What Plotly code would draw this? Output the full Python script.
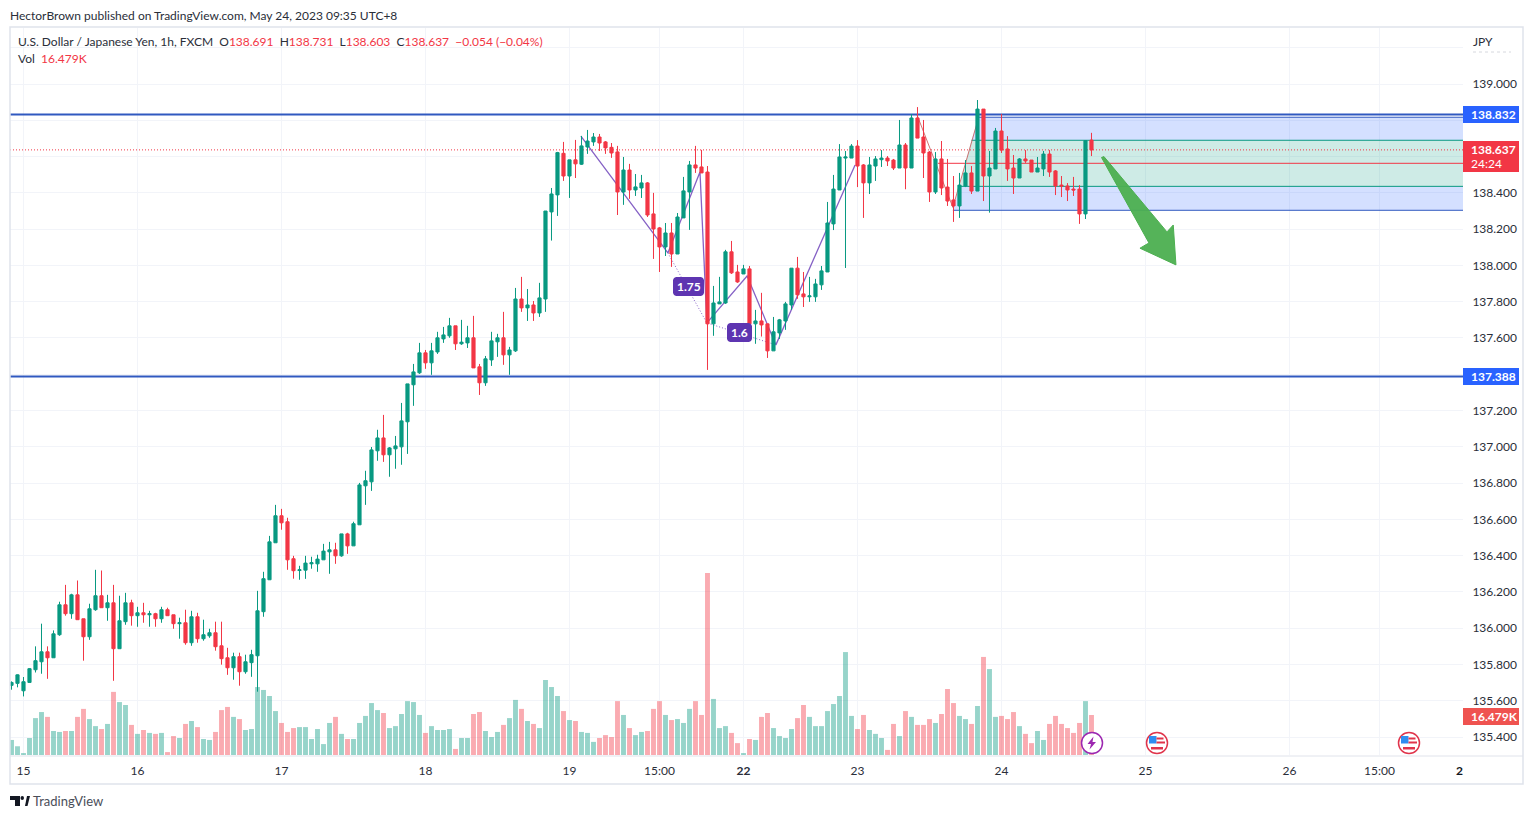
# USD/JPY 1h candles with volume, TradingView style.
import plotly.graph_objects as pgo

OPEN = [
    135.685, 135.696, 135.655, 135.701, 135.771, 135.815, 135.870, 135.837, 135.964, 136.129,
    136.080, 136.184, 136.052, 135.953, 136.102, 136.179, 136.113, 136.140, 135.887, 136.036,
    136.140, 136.069, 136.085, 136.074, 136.080, 136.052, 136.102, 136.074, 136.025, 136.030,
    135.920, 136.063, 135.942, 135.958, 135.975, 135.903, 135.837, 135.782, 135.843, 135.760,
    135.810, 135.848, 136.091, 136.267, 136.471, 136.620, 136.587, 136.383, 136.318, 136.320,
    136.355, 136.355, 136.377, 136.421, 136.432, 136.399, 136.520, 136.454, 136.570, 136.785,
    136.807, 136.978, 137.049, 136.956, 136.989, 137.000, 137.138, 137.342, 137.408, 137.518,
    137.463, 137.523, 137.595, 137.612, 137.667, 137.568, 137.573, 137.601, 137.441, 137.353,
    137.479, 137.579, 137.601, 137.507, 137.529, 137.815, 137.766, 137.782, 137.738, 137.815,
    138.295, 138.389, 138.618, 138.493, 138.582, 138.558, 138.653, 138.681, 138.708, 138.681,
    138.651, 138.626, 138.405, 138.526, 138.416, 138.427, 138.455, 138.284, 138.207, 138.102,
    138.179, 138.063, 138.262, 138.405, 138.554, 138.543, 138.515, 137.678, 137.788, 137.793,
    138.075, 137.964, 137.953, 137.981, 137.678, 137.694, 137.678, 137.529, 137.628, 137.694,
    137.782, 137.985, 137.843, 137.827, 137.827, 137.893, 137.964, 138.229, 138.416, 138.592,
    138.592, 138.658, 138.554, 138.455, 138.548, 138.583, 138.592, 138.581, 138.537, 138.664,
    138.537, 138.813, 138.708, 138.625, 138.405, 138.587, 138.432, 138.361, 138.328, 138.438,
    138.510, 138.410, 138.862, 138.493, 138.532, 138.741, 138.642, 138.537, 138.482, 138.587,
    138.581, 138.515, 138.532, 138.614, 138.521, 138.443, 138.438, 138.421, 138.421, 138.284,
    138.691,
]
HIGH = [
    135.707, 135.745, 135.731, 135.780, 135.900, 136.025, 135.900, 135.988, 136.146, 136.239,
    136.190, 136.263, 136.052, 136.135, 136.322, 136.318, 136.184, 136.239, 136.179, 136.195,
    136.157, 136.118, 136.140, 136.096, 136.085, 136.118, 136.113, 136.074, 136.058, 136.102,
    136.096, 136.085, 136.047, 135.997, 136.036, 136.036, 135.892, 135.865, 135.865, 135.854,
    135.881, 136.206, 136.311, 136.509, 136.680, 136.658, 136.609, 136.399, 136.344, 136.399,
    136.394, 136.405, 136.465, 136.476, 136.471, 136.520, 136.526, 136.587, 136.801, 136.868,
    136.999, 137.094, 137.176, 136.999, 137.060, 137.242, 137.347, 137.457, 137.573, 137.534,
    137.573, 137.634, 137.661, 137.711, 137.667, 137.700, 137.667, 137.722, 137.457, 137.501,
    137.634, 137.623, 137.744, 137.551, 137.876, 137.937, 137.870, 137.804, 137.904, 138.300,
    138.427, 138.626, 138.681, 138.582, 138.692, 138.714, 138.747, 138.730, 138.725, 138.686,
    138.675, 138.659, 138.598, 138.560, 138.504, 138.499, 138.460, 138.400, 138.212, 138.234,
    138.234, 138.289, 138.488, 138.576, 138.659, 138.637, 138.548, 137.887, 137.937, 138.086,
    138.135, 138.003, 138.003, 137.997, 137.755, 137.849, 137.678, 137.716, 137.705, 137.799,
    137.985, 138.047, 137.964, 137.937, 137.926, 137.997, 138.350, 138.499, 138.669, 138.631,
    138.669, 138.691, 138.559, 138.598, 138.603, 138.636, 138.603, 138.587, 138.802, 138.675,
    138.835, 138.873, 138.802, 138.631, 138.625, 138.686, 138.587, 138.493, 138.510, 138.581,
    138.548, 138.912, 138.862, 138.631, 138.758, 138.835, 138.713, 138.609, 138.592, 138.636,
    138.581, 138.598, 138.631, 138.636, 138.526, 138.493, 138.454, 138.488, 138.443, 138.691,
    138.731,
]
LOW = [
    135.661, 135.674, 135.624, 135.701, 135.756, 135.749, 135.721, 135.837, 135.958, 136.069,
    136.052, 136.047, 135.821, 135.936, 136.096, 136.113, 136.041, 135.710, 135.887, 136.019,
    136.014, 136.008, 136.030, 136.008, 136.008, 136.030, 136.069, 135.997, 135.942, 135.909,
    135.903, 135.920, 135.931, 135.947, 135.876, 135.799, 135.743, 135.716, 135.683, 135.749,
    135.732, 135.650, 136.063, 136.267, 136.471, 136.543, 136.322, 136.273, 136.267, 136.272,
    136.328, 136.311, 136.377, 136.300, 136.355, 136.394, 136.410, 136.454, 136.570, 136.680,
    136.757, 136.923, 136.917, 136.835, 136.879, 136.901, 136.961, 137.226, 137.402, 137.430,
    137.397, 137.512, 137.573, 137.601, 137.534, 137.562, 137.545, 137.435, 137.286, 137.336,
    137.446, 137.496, 137.452, 137.397, 137.523, 137.744, 137.694, 137.694, 137.716, 137.744,
    138.137, 138.273, 138.466, 138.372, 138.482, 138.554, 138.615, 138.659, 138.631, 138.615,
    138.593, 138.278, 138.334, 138.367, 138.383, 138.372, 138.267, 138.036, 137.964, 138.052,
    137.992, 138.063, 138.262, 138.196, 138.510, 138.510, 137.424, 137.612, 137.788, 137.788,
    137.953, 137.904, 137.953, 137.672, 137.568, 137.608, 137.490, 137.529, 137.595, 137.645,
    137.755, 137.816, 137.771, 137.799, 137.799, 137.865, 137.964, 138.195, 138.416, 137.986,
    138.592, 138.432, 138.262, 138.394, 138.466, 138.543, 138.548, 138.526, 138.537, 138.420,
    138.537, 138.702, 138.482, 138.350, 138.394, 138.388, 138.328, 138.240, 138.262, 138.432,
    138.394, 138.410, 138.355, 138.291, 138.532, 138.620, 138.466, 138.394, 138.482, 138.565,
    138.515, 138.515, 138.493, 138.488, 138.388, 138.377, 138.355, 138.383, 138.229, 138.256,
    138.603,
]
CLOSE = [
    135.701, 135.743, 135.705, 135.777, 135.821, 135.870, 135.837, 135.969, 136.129, 136.080,
    136.184, 136.047, 135.953, 136.107, 136.179, 136.113, 136.140, 135.887, 136.041, 136.140,
    136.069, 136.085, 136.074, 136.080, 136.052, 136.102, 136.069, 136.025, 136.030, 135.920,
    136.063, 135.942, 135.964, 135.975, 135.898, 135.832, 135.782, 135.843, 135.760, 135.815,
    135.854, 136.096, 136.273, 136.476, 136.620, 136.581, 136.377, 136.317, 136.322, 136.359,
    136.361, 136.381, 136.425, 136.432, 136.399, 136.520, 136.454, 136.576, 136.790, 136.813,
    136.983, 137.049, 136.956, 136.994, 137.005, 137.143, 137.347, 137.413, 137.518, 137.463,
    137.529, 137.601, 137.617, 137.667, 137.568, 137.577, 137.601, 137.435, 137.353, 137.485,
    137.584, 137.601, 137.507, 137.534, 137.815, 137.766, 137.782, 137.738, 137.821, 138.300,
    138.394, 138.622, 138.493, 138.582, 138.560, 138.659, 138.686, 138.708, 138.675, 138.648,
    138.620, 138.405, 138.526, 138.416, 138.433, 138.455, 138.278, 138.201, 138.102, 138.179,
    138.063, 138.267, 138.411, 138.554, 138.537, 138.510, 137.678, 137.793, 137.799, 138.075,
    137.959, 137.909, 137.981, 137.678, 137.694, 137.672, 137.529, 137.634, 137.700, 137.788,
    137.985, 137.838, 137.827, 137.832, 137.898, 137.970, 138.234, 138.421, 138.598, 138.598,
    138.658, 138.548, 138.455, 138.554, 138.587, 138.592, 138.576, 138.537, 138.664, 138.537,
    138.813, 138.702, 138.620, 138.405, 138.587, 138.427, 138.355, 138.328, 138.443, 138.510,
    138.410, 138.862, 138.493, 138.537, 138.741, 138.636, 138.532, 138.482, 138.587, 138.576,
    138.515, 138.537, 138.614, 138.515, 138.438, 138.438, 138.416, 138.416, 138.284, 138.688,
    138.637,
]
VOLUME_K = [
    6.2, 3.6, 0.8, 7.0, 15.2, 17.7, 15.7, 9.9, 9.5, 9.9,
    9.9, 15.7, 19.0, 14.8, 11.9, 10.7, 12.8, 26.0, 21.8, 20.6,
    12.4, 8.7, 10.3, 9.1, 8.7, 9.1, 1.2, 7.8, 7.0, 12.8,
    14.0, 11.5, 6.6, 6.2, 9.5, 18.5, 19.8, 15.7, 14.8, 10.3,
    10.7, 28.0, 26.8, 24.3, 18.1, 13.2, 9.5, 11.1, 11.5, 11.5,
    6.6, 10.7, 4.5, 13.2, 15.7, 8.7, 6.6, 6.6, 13.2, 16.1,
    21.4, 18.5, 17.3, 11.1, 11.9, 16.9, 22.2, 21.8, 16.5, 9.1,
    11.9, 10.3, 10.3, 10.7, 2.5, 7.0, 7.0, 16.9, 17.7, 9.9,
    7.4, 9.5, 12.4, 15.2, 22.7, 19.0, 14.0, 12.8, 11.1, 30.9,
    28.0, 24.3, 18.1, 14.4, 14.0, 9.5, 9.1, 5.4, 7.0, 8.2,
    7.4, 22.2, 16.5, 11.1, 8.2, 9.5, 9.9, 19.0, 22.2, 16.5,
    14.4, 14.8, 13.2, 19.0, 22.2, 16.5, 75.0, 23.1, 11.1, 11.9,
    9.1, 4.9, 0.8, 6.6, 6.2, 15.7, 17.3, 11.1, 7.8, 7.0,
    10.7, 15.2, 20.6, 15.7, 11.9, 11.9, 18.1, 21.0, 24.3, 42.4,
    16.1, 10.7, 16.5, 10.3, 8.7, 7.0, 2.1, 12.8, 7.8, 18.1,
    15.7, 12.4, 12.4, 14.8, 13.2, 16.9, 27.2, 21.4, 16.1, 14.8,
    12.8, 20.2, 40.4, 35.4, 15.7, 16.1, 14.8, 17.7, 11.9, 8.7,
    4.9, 9.9, 6.2, 12.8, 16.1, 12.8, 11.1, 9.1, 13.2, 22.2,
    16.479,
]

X_TICK_BARS = [2, 21, 45, 69, 93, 108, 122, 141, 165, 189, 213, 228]
X_TICK_LABELS = ['15', '16', '17', '18', '19', '15:00', '<b>22</b>', '23', '24', '25', '26', '15:00']
PRICE_TICKS = [135.4, 135.6, 135.8, 136.0, 136.2, 136.4, 136.6, 136.8, 137.0, 137.2,
               137.4, 137.6, 137.8, 138.0, 138.2, 138.4, 138.6, 138.8, 139.0, 139.2]
# these sit under the JPY caption or the price tags on the scale
HIDDEN_TICKS = [137.4, 138.6, 138.8, 139.2]

SUPPORT = 137.388
RESISTANCE = 138.832
LAST_PRICE = 138.637

# harmonic pattern drawn on the chart
ZIG_BARS = [94.9, 109.4, 114.75, 115.9, 122.6, 127.4, 140.6]
ZIG_PRICES = [138.713, 138.069, 138.515, 137.683, 137.942, 137.562, 138.554]
DOT_BARS = [109.4, 115.9, 127.4]
DOT_PRICES = [138.069, 137.683, 137.562]

# pitchfork on the right
FORK_BARS = [150.9, 156.9, 161.2]
FORK_PRICES = [138.832, 138.320, 138.817]
FORK_LEVELS = [138.817, 138.690, 138.563, 138.436, 138.304]
FORK_STARTS = [161.2, 160.0, 154.4, 158.0, 156.9]
FORK_COLORS = ['#3059c0', '#089981', '#f23645', '#089981', '#3059c0']

ARROW_BARS = [181.67, 182.08, 192.58, 193.63, 194.08, 188.08, 189.58, 181.67]
ARROW_PRICES = [138.595, 138.600, 138.185, 138.223, 138.003, 138.095, 138.124, 138.595]

FONT = 'Lato'
RED = '#f23645'
GREEN = '#089981'
GRID = '#f2f4f9'
BORDER = '#e0e3eb'

LEFT, RIGHT, TOP, BOTTOM = 10, 1463, 28, 755
PRICE_RANGE = [135.301, 139.309]
BAR_RANGE = [-0.25, 241.92]
VOLUME_RANGE = [0, 299.5]


def px(x):
    return (x - LEFT) / (RIGHT - LEFT)


def py(y):
    return (BOTTOM - y) / (BOTTOM - TOP)


def page_text(fig, text, x, y, size=12, color='#131722', anchor='left'):
    # annotations keep a small inner pad, take it off so x is where the glyphs start
    if anchor == 'left':
        x -= 2
    fig.add_annotation(text=text, x=px(x), y=py(y), xref='paper', yref='paper', showarrow=False,
                       xanchor=anchor, yanchor='middle', align='left',
                       font=dict(family=FONT, size=size, color=color))


def page_rect(fig, x0, y0, x1, y1, color, line=None, kind='rect'):
    fig.add_shape(type=kind, xref='paper', yref='paper', x0=px(x0), x1=px(x1), y0=py(y0), y1=py(y1),
                  fillcolor=color, line=dict(color=line or color, width=1.5 if line else 0), layer='above')


def page_path(fig, points, color):
    path = 'M ' + ' L '.join(f'{px(x)} {py(y)}' for x, y in points) + ' Z'
    fig.add_shape(type='path', xref='paper', yref='paper', layer='above', fillcolor=color, line_width=0, path=path)


def round_tag(fig, x0, y0, x1, y1, color, r=3):
    page_path(fig, [(x0 + r, y0), (x1 - r, y0), (x1 - 1, y0 + 1), (x1, y0 + r), (x1, y1 - r), (x1 - 1, y1 - 1),
                    (x1 - r, y1), (x0 + r, y1), (x0 + 1, y1 - 1), (x0, y1 - r), (x0, y0 + r), (x0 + 1, y0 + 1)], color)


def add_flag(fig, cx, cy):
    page_rect(fig, cx - 10.5, cy - 10.5, cx + 10.5, cy + 10.5, 'white', line='#e0344b', kind='circle')
    page_rect(fig, cx - 8, cy - 7, cx - 0.5, cy + 0.5, '#2f8df0')
    page_rect(fig, cx - 0.5, cy - 5.5, cx + 6.5, cy - 3.5, '#e0344b')
    page_rect(fig, cx - 0.5, cy - 1.5, cx + 8, cy + 0.5, '#e0344b')
    page_rect(fig, cx - 6, cy + 4, cx + 6, cy + 6.5, '#e0344b')


def main():
    fig = pgo.Figure()
    bars = list(range(len(CLOSE)))
    right_bar = BAR_RANGE[1]

    # drawings sit on the base axis so the candles stay on top of them
    top, mid_hi, mid_lo, bottom = FORK_LEVELS[0], FORK_LEVELS[1], FORK_LEVELS[3], FORK_LEVELS[4]
    fig.add_trace(pgo.Scatter(
        x=[FORK_STARTS[4], FORK_STARTS[3], right_bar, right_bar, FORK_STARTS[4]],
        y=[bottom, mid_lo, mid_lo, bottom, bottom],
        mode='none', fill='toself', fillcolor='rgba(41,98,255,0.2)'))
    fig.add_trace(pgo.Scatter(
        x=[FORK_STARTS[1], FORK_STARTS[0], right_bar, right_bar, FORK_STARTS[1]],
        y=[mid_hi, top, top, mid_hi, mid_hi],
        mode='none', fill='toself', fillcolor='rgba(41,98,255,0.2)'))
    fig.add_trace(pgo.Scatter(
        x=[FORK_STARTS[3], FORK_STARTS[1], right_bar, right_bar, FORK_STARTS[3]],
        y=[mid_lo, mid_hi, mid_hi, mid_lo, mid_lo],
        mode='none', fill='toself', fillcolor='rgba(8,153,129,0.2)'))
    for level, start, color in zip(FORK_LEVELS, FORK_STARTS, FORK_COLORS):
        fig.add_trace(pgo.Scatter(x=[start, right_bar], y=[level, level], mode='lines',
                                  line=dict(color=color, width=1)))
    fig.add_trace(pgo.Scatter(x=FORK_BARS, y=FORK_PRICES, mode='lines',
                              line=dict(color='rgba(200,90,90,0.85)', width=1)))

    for level in (RESISTANCE, SUPPORT):
        fig.add_trace(pgo.Scatter(x=BAR_RANGE, y=[level, level], mode='lines',
                                  line=dict(color='#3059c0', width=2)))
    fig.add_trace(pgo.Scatter(x=BAR_RANGE, y=[LAST_PRICE, LAST_PRICE], mode='lines',
                              line=dict(color=RED, width=1, dash='1px,2px')))

    fig.add_trace(pgo.Scatter(x=ZIG_BARS, y=ZIG_PRICES, mode='lines',
                              line=dict(color='rgba(103,58,183,0.8)', width=1.3)))
    fig.add_trace(pgo.Scatter(x=DOT_BARS, y=DOT_PRICES, mode='lines',
                              line=dict(color='rgba(103,58,183,0.8)', width=1, dash='1px,2px')))
    fig.add_trace(pgo.Scatter(x=ARROW_BARS, y=ARROW_PRICES, mode='lines', fill='toself',
                              fillcolor='rgba(76,175,80,0.95)', line=dict(color='#4caf50', width=1)))

    fig.add_trace(pgo.Bar(
        x=bars, y=VOLUME_K, yaxis='y2',
        marker=dict(line_width=0,
                    color=['rgba(8,153,129,0.42)' if c >= o else 'rgba(242,54,69,0.42)'
                           for o, c in zip(OPEN, CLOSE)])))

    fig.add_trace(pgo.Candlestick(
        x=bars, open=OPEN, high=HIGH, low=LOW, close=CLOSE, yaxis='y3', whiskerwidth=0,
        increasing=dict(line=dict(color=GREEN, width=1), fillcolor=GREEN),
        decreasing=dict(line=dict(color=RED, width=1), fillcolor=RED)))

    fig.update_layout(
        width=1533, height=819, autosize=False,
        margin=dict(l=LEFT, r=1533 - RIGHT, t=TOP, b=819 - BOTTOM, pad=0),
        paper_bgcolor='white', plot_bgcolor='white',
        showlegend=False, bargap=0.18, boxgap=0.25,
        font=dict(family=FONT, size=12, color='#131722'),
        xaxis=dict(range=BAR_RANGE, tickmode='array', tickvals=X_TICK_BARS, ticktext=X_TICK_LABELS,
                   showgrid=True, gridcolor=GRID, zeroline=False, rangeslider=dict(visible=False),
                   ticks='outside', ticklen=5, tickcolor='white', showline=False,
                   tickfont=dict(family=FONT, size=12, color='#2a2e39')),
        yaxis=dict(range=PRICE_RANGE, side='right', tickmode='array', tickvals=PRICE_TICKS,
                   ticktext=['' if t in HIDDEN_TICKS else f'{t:.3f}' for t in PRICE_TICKS],
                   showgrid=True, gridcolor=GRID, zeroline=False, ticks='outside', ticklen=6,
                   tickcolor='white', tickfont=dict(family=FONT, size=12, color='#2a2e39')),
        yaxis2=dict(range=VOLUME_RANGE, overlaying='y', visible=False),
        yaxis3=dict(range=PRICE_RANGE, overlaying='y', visible=False),
    )

    # frame around the chart
    page_rect(fig, 10, 27, 1523, 784, 'rgba(0,0,0,0)', line=BORDER)
    fig.add_shape(type='line', xref='paper', yref='paper', x0=px(10), x1=px(1523), y0=py(756), y1=py(756),
                  line=dict(color=BORDER, width=1), layer='above')
    fig.add_shape(type='line', xref='paper', yref='paper', x0=px(1473), x1=px(1511), y0=py(52), y1=py(52),
                  line=dict(color='#d6d8de', width=1, dash='dot'), layer='above')

    page_text(fig, 'HectorBrown published on TradingView.com, May 24, 2023 09:35 UTC+8', 10, 15, color='#2a2e39')
    page_text(fig, 'U.S. Dollar / Japanese Yen, 1h, FXCM  '
                   f'O<span style="color:{RED}">138.691</span>  H<span style="color:{RED}">138.731</span>  '
                   f'L<span style="color:{RED}">138.603</span>  C<span style="color:{RED}">138.637</span>  '
                   f'<span style="color:{RED}">−0.054 (−0.04%)</span>', 18, 41, color='#2a2e39')
    page_text(fig, f'Vol  <span style="color:{RED}">16.479K</span>', 18, 59, color='#2a2e39')
    page_text(fig, 'JPY', 1473, 41, color='#2a2e39')
    page_text(fig, '<b>2</b>', 1459, 770, anchor='center')
    page_text(fig, 'TradingView', 33, 801, size=13, color='#4a4e59')

    # TradingView mark
    page_rect(fig, 10, 796, 20, 800, '#131722')
    page_rect(fig, 15, 800, 20, 806, '#131722')
    page_rect(fig, 20.5, 796, 24, 800, '#131722', kind='circle')
    page_path(fig, [(25, 806), (27, 796), (30, 796), (27.5, 806)], '#131722')

    # price labels on the scale
    page_rect(fig, 1463, 106, 1519, 123, '#2962ff')
    page_text(fig, '<b>138.832</b>', 1471, 114.5, color='white')
    page_rect(fig, 1463, 141, 1519, 172, RED)
    page_text(fig, '<b>138.637</b>', 1471, 149.5, color='white')
    page_text(fig, '24:24', 1471, 164, color='white')
    page_rect(fig, 1463, 368, 1519, 385, '#2962ff')
    page_text(fig, '<b>137.388</b>', 1471, 376.5, color='white')
    page_rect(fig, 1463, 708, 1519, 725, '#ef5350')
    page_text(fig, '<b>16.479K</b>', 1471, 716.5, color='white')

    # pattern ratio tags
    round_tag(fig, 673, 277, 704, 296, '#5e35b1')
    page_text(fig, '<b>1.75</b>', 688.5, 286.5, color='white', anchor='center')
    round_tag(fig, 727, 323, 752, 342, '#5e35b1')
    page_text(fig, '<b>1.6</b>', 739.5, 332.5, color='white', anchor='center')

    # calendar events under the last bars
    page_rect(fig, 1081.5, 732.5, 1102.5, 753.5, 'white', line='#9c27b0', kind='circle')
    page_path(fig, [(1093.5, 736.5), (1087.5, 744), (1091, 744), (1089.5, 749.5),
                    (1096, 742), (1092.5, 742)], '#9c27b0')
    add_flag(fig, 1157, 743)
    add_flag(fig, 1409, 743)

    fig.write_html('out.html', config=dict(displayModeBar=False),
                   post_script="document.body.style.margin='0';")


if __name__ == '__main__':
    main()
